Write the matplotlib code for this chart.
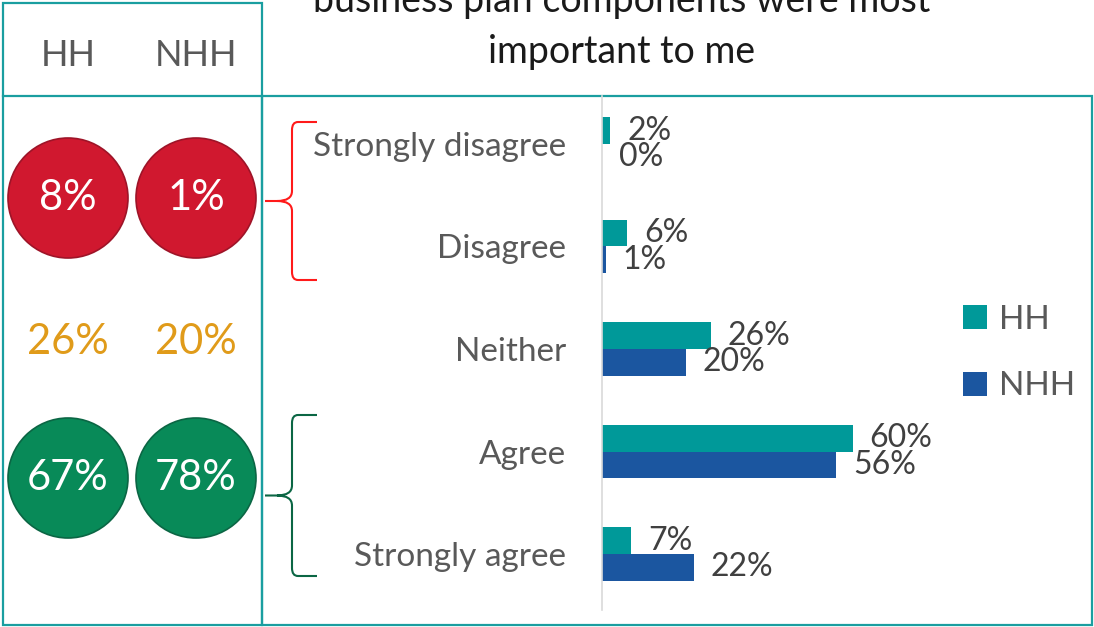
import matplotlib.pyplot as plt
from matplotlib.patches import Circle, Rectangle, PathPatch
from matplotlib.path import Path
import numpy as np

plt.rcParams['font.family'] = ['Lato', 'DejaVu Sans']

# Dados
categories = ['Strongly disagree', 'Disagree', 'Neither', 'Agree', 'Strongly agree']
hh_values = [2, 6, 26, 60, 7]
nhh_values = [0, 1, 20, 56, 22]
series_names = ['HH', 'NHH']
# resumo: discordam / neutro / concordam
hh_summary = [8, 26, 67]
nhh_summary = [1, 20, 78]
title_lines = ['business plan components were most', 'important to me']

W, H = 1094, 627
teal_line = '#1a9ea0'
hh_color = '#009999'
nhh_color = '#1b56a0'
red = '#d0182f'
green = '#088a58'
amber = '#e09b1a'

fig = plt.figure(figsize=(W / 100, H / 100), dpi=100)

# camada de fundo em coordenadas de pixel
ov = fig.add_axes([0, 0, 1, 1])
ov.set_xlim(0, W)
ov.set_ylim(H, 0)
ov.axis('off')

# caixas
ov.add_patch(Rectangle((3, 3), 259, 622, fill=False, ec=teal_line, lw=1.6))
ov.add_patch(Rectangle((262, 96), 830, 529, fill=False, ec=teal_line, lw=1.6))
ov.plot([3, 262], [96, 96], color=teal_line, lw=1.6)

# titulo (a primeira linha fica cortada no topo, como no original)
ov.text(622, 12, title_lines[0], ha='center', va='baseline', fontsize=27,
        color='#1a1a1a')
ov.text(622, 63, title_lines[1], ha='center', va='baseline', fontsize=27,
        color='#1a1a1a')

# cabecalho do painel esquerdo
col_x = [68, 196]
for cx, name in zip(col_x, series_names):
    ov.text(cx, 55, name, ha='center', va='center', fontsize=26, color='#595959')

# circulos e percentuais
row_y = [198, 342, 478]
row_fill = [red, None, green]
row_edge = ['#9e1428', None, '#0b6644']
for vals, cx in zip([hh_summary, nhh_summary], col_x):
    for v, cy, fc, ec in zip(vals, row_y, row_fill, row_edge):
        if fc is None:
            ov.text(cx, cy, f'{v}%', ha='center', va='center', fontsize=30, color=amber)
        else:
            ov.add_patch(Circle((cx, cy), 60, fc=fc, ec=ec, lw=1.2))
            ov.text(cx, cy, f'{v}%', ha='center', va='center', fontsize=30, color='white')


def brace(top, bottom, color):
    mid = (top + bottom) / 2
    xv, xe, xt = 292, 317, 265
    verts = [(xe, top), (298, top), (xv, top), (xv, top + 8),
             (xv, mid - 10), (xv, mid), (xt + 12, mid), (xt, mid),
             (xt + 12, mid), (xv, mid), (xv, mid + 10),
             (xv, bottom - 8), (xv, bottom), (298, bottom), (xe, bottom)]
    codes = [Path.MOVETO, Path.LINETO, Path.CURVE3, Path.CURVE3,
             Path.LINETO, Path.CURVE3, Path.CURVE3, Path.LINETO,
             Path.MOVETO, Path.CURVE3, Path.CURVE3,
             Path.LINETO, Path.CURVE3, Path.CURVE3, Path.LINETO]
    ov.add_patch(PathPatch(Path(verts, codes), fill=False, ec=color, lw=1.5))


brace(122, 280, '#ff1a1a')
brace(415, 576, '#0b6644')

# grafico de barras
ax = fig.add_axes([602 / W, 1 - 610 / H, 490 / W, 514 / H])
ax.patch.set_visible(False)
y = np.arange(len(categories))
bh = 0.26
b1 = ax.barh(y - bh / 2, hh_values, height=bh, color=hh_color, label=series_names[0])
b2 = ax.barh(y + bh / 2, nhh_values, height=bh, color=nhh_color, label=series_names[1])
ax.set_xlim(0, 117.2)
ax.set_ylim(4.546, -0.468)

for bars, vals in [(b1, hh_values), (b2, nhh_values)]:
    for rect, v in zip(bars, vals):
        ax.annotate(f'{v}%', (rect.get_width(), rect.get_y() + rect.get_height() / 2),
                    xytext=(12, 0), textcoords='offset points', va='center', ha='left',
                    fontsize=23, color='#404040')

ax.set_yticks(y)
ax.set_yticklabels(categories, fontsize=24, color='#595959')
ax.tick_params(axis='y', length=0, pad=26)
ax.set_xticks([])
for s in ['top', 'right', 'bottom']:
    ax.spines[s].set_visible(False)
ax.spines['left'].set_color('#d9d9d9')
ax.spines['left'].set_linewidth(1.2)

ax.legend(loc='center left', bbox_to_anchor=(0.675, 0.50), frameon=False, fontsize=24,
          labelcolor='#595959', handlelength=0.72, handleheight=0.72,
          labelspacing=1.1, handletextpad=0.36)

fig.savefig('out.png', dpi=100)
